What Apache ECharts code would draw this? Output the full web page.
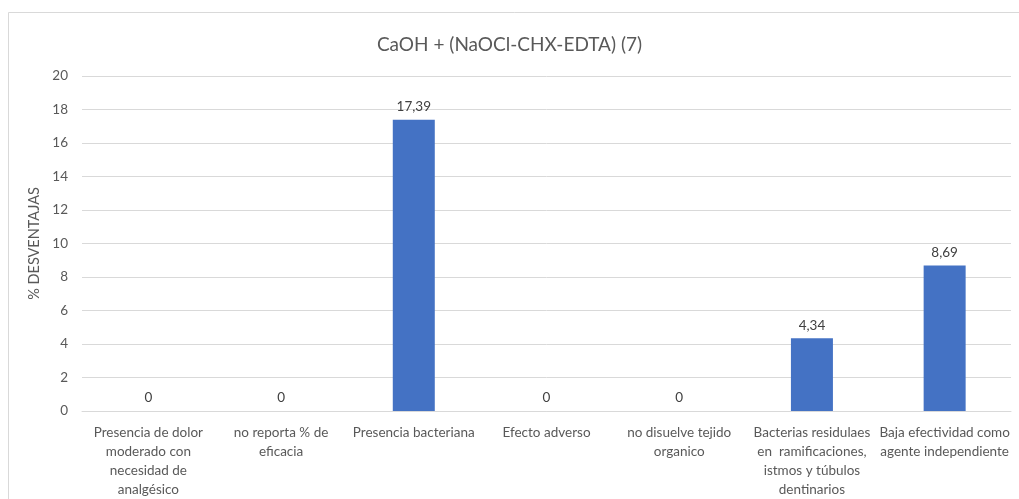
<!DOCTYPE html>
<html><head><meta charset="utf-8">
<script src="https://cdn.jsdelivr.net/npm/echarts@6/dist/echarts.min.js"></script>
<style>html,body{margin:0;padding:0;background:#fff}#c{width:1019px;height:499px}</style>
</head><body><div id="c"></div>
<script>
const categories = [
  "Presencia de dolor\nmoderado con\nnecesidad de\nanalgésico",
  "no reporta % de\neficacia",
  "Presencia bacteriana",
  "Efecto adverso",
  "no disuelve tejido\norganico",
  "Bacterias residulaes\nen  ramificaciones,\nistmos y túbulos\ndentinarios",
  "Baja efectividad como\nagente independiente"
];
const values = [0, 0, 17.39, 0, 0, 4.34, 8.69];
const yTicks = { min: 0, max: 20, interval: 2 };

const chart = echarts.init(document.getElementById('c'));
const font = 'Lato, "Open Sans", sans-serif';
chart.setOption({
  animation: false,
  backgroundColor: '#fff',
  title: {
    text: 'CaOH + (NaOCl-CHX-EDTA) (7)',
    left: 'center', top: 30,
    textStyle: { fontFamily: font, fontSize: 19, fontWeight: 'normal', color: '#595959' }
  },
  graphic: [{
    type: 'rect', shape: { x: 8.5, y: 12.5, width: 1030, height: 520 },
    style: { fill: 'none', stroke: '#d9d9d9', lineWidth: 1 }, silent: true
  }],
  grid: { left: 82, right: 8, top: 76, bottom: 88, containLabel: false },
  xAxis: {
    type: 'category', data: categories,
    axisLine: { lineStyle: { color: '#d9d9d9', width: 1 } },
    axisTick: { show: false },
    axisLabel: { interval: 0, color: '#595959', fontFamily: font, fontSize: 13.5, lineHeight: 19, margin: 12 }
  },
  yAxis: {
    type: 'value', min: yTicks.min, max: yTicks.max, interval: yTicks.interval,
    name: '% DESVENTAJAS', nameLocation: 'middle', nameGap: 37, nameRotate: 90,
    nameTextStyle: { color: '#595959', fontFamily: font, fontSize: 14.5 },
    axisLine: { show: false }, axisTick: { show: false },
    axisLabel: { color: '#595959', fontFamily: font, fontSize: 13.5, margin: 14 },
    splitLine: { lineStyle: { color: '#d9d9d9', width: 1 } }
  },
  series: [{
    type: 'bar', data: values, barWidth: 42,
    itemStyle: { color: '#4472c4' },
    label: {
      show: true, position: 'top', distance: 6, color: '#404040', fontFamily: font, fontSize: 13.5,
      formatter: p => String(p.value).replace('.', ',')
    }
  }]
});
</script></body></html>
